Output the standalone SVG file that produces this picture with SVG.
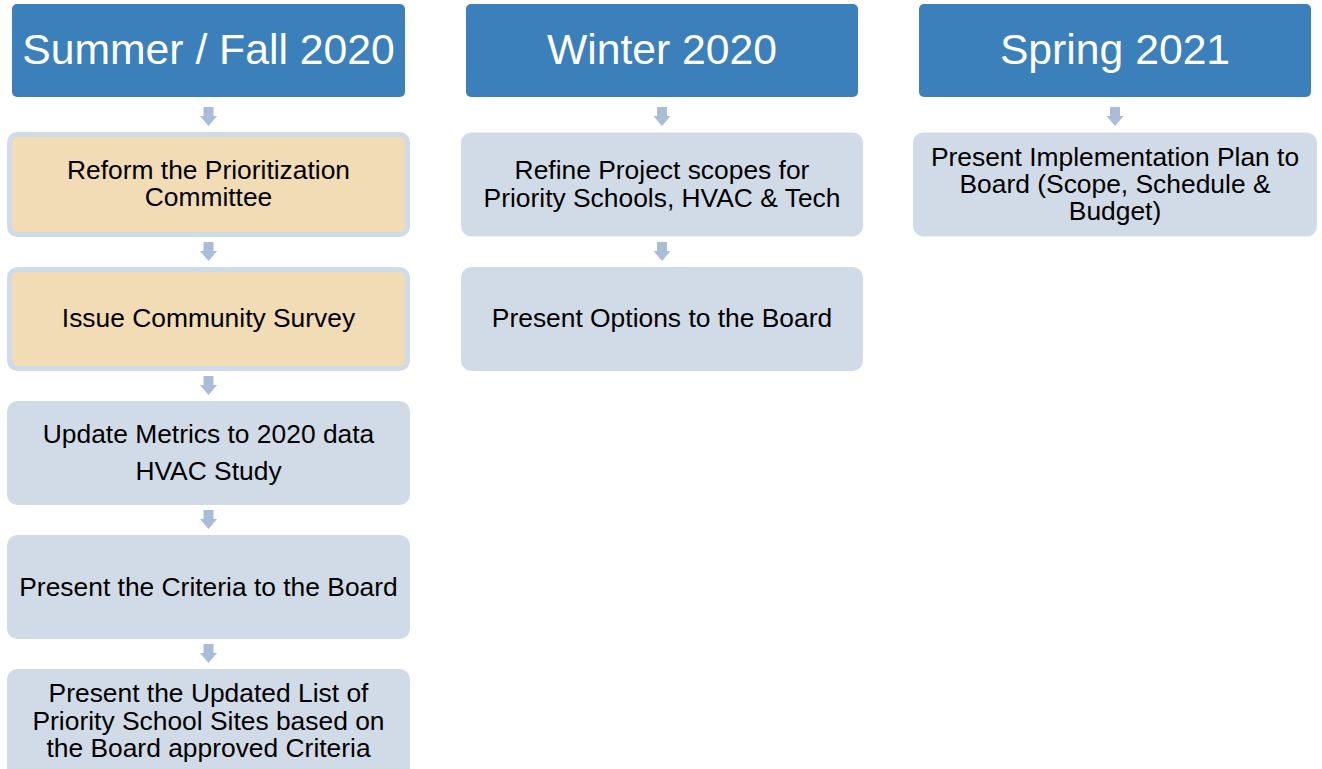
<svg xmlns="http://www.w3.org/2000/svg" xmlns:xlink="http://www.w3.org/1999/xlink" width="1322" height="769" viewBox="0 0 1322 769">
<style>
.hdr{fill:#3b80ba}
.hdrt{font-family:"Liberation Sans",Arial,sans-serif;font-size:42.7px;fill:#ffffff;text-anchor:middle}
.tan{fill:#f1dcb5;stroke:#d0dbe9;stroke-width:5}
.gry{fill:#d1dbe8;stroke:#d1dbe8;stroke-width:5}
.t{font-family:"Liberation Sans",Arial,sans-serif;font-size:26.4px;fill:#000000;text-anchor:middle}
.arr{fill:#a9bcd8}
</style>
<defs>
<path id="ar" class="arr" d="M-5,0 H5 V9 H8.5 L0,19 L-8.5,9 H-5 Z"/>
</defs>
<rect width="1322" height="769" fill="#ffffff"/>
<g id="connectors">
<use xlink:href="#ar" x="208.5" y="107"/>
<use xlink:href="#ar" x="208.5" y="242"/>
<use xlink:href="#ar" x="208.5" y="376"/>
<use xlink:href="#ar" x="208.5" y="510"/>
<use xlink:href="#ar" x="208.5" y="644"/>
<use xlink:href="#ar" x="662" y="107"/>
<use xlink:href="#ar" x="662" y="242"/>
<use xlink:href="#ar" x="1115" y="107"/>
</g>
<g id="h1"><rect class="hdr" x="12" y="4" width="393" height="93" rx="5"/><text class="hdrt" x="208.5" y="64">Summer / Fall 2020</text></g>
<g id="h2"><rect class="hdr" x="466" y="4" width="392" height="93" rx="5"/><text class="hdrt" x="662" y="64">Winter 2020</text></g>
<g id="h3"><rect class="hdr" x="919" y="4" width="392" height="93" rx="5"/><text class="hdrt" x="1115" y="64">Spring 2021</text></g>
<g id="n1"><rect class="tan" x="9.5" y="134.5" width="398" height="100" rx="8"/><text class="t" x="208.5" y="179">Reform the Prioritization</text><text class="t" x="208.5" y="206">Committee</text></g>
<g id="n2"><rect class="tan" x="9.5" y="269.5" width="398" height="99" rx="8"/><text class="t" x="208.5" y="327">Issue Community Survey</text></g>
<g id="n3"><rect class="gry" x="9.5" y="403.5" width="398" height="99" rx="8"/><text class="t" x="208.5" y="443">Update Metrics to 2020 data</text><text class="t" x="208.5" y="480">HVAC Study</text></g>
<g id="n4"><rect class="gry" x="9.5" y="537.5" width="398" height="99" rx="8"/><text class="t" x="208.5" y="596">Present the Criteria to the Board</text></g>
<g id="n5"><rect class="gry" x="9.5" y="671.5" width="398" height="110" rx="8"/><text class="t" x="208.5" y="702">Present the Updated List of</text><text class="t" x="208.5" y="730">Priority School Sites based on</text><text class="t" x="208.5" y="757">the Board approved Criteria</text></g>
<g id="n6"><rect class="gry" x="463.5" y="135" width="397" height="99" rx="8"/><text class="t" x="662" y="179">Refine Project scopes for</text><text class="t" x="662" y="207">Priority Schools, HVAC &amp; Tech</text></g>
<g id="n7"><rect class="gry" x="463.5" y="269.5" width="397" height="99" rx="8"/><text class="t" x="662" y="327">Present Options to the Board</text></g>
<g id="n8"><rect class="gry" x="915.5" y="135" width="399" height="99" rx="8"/><text class="t" x="1115" y="166">Present Implementation Plan to</text><text class="t" x="1115" y="193">Board (Scope, Schedule &amp;</text><text class="t" x="1115" y="220">Budget)</text></g>
</svg>
